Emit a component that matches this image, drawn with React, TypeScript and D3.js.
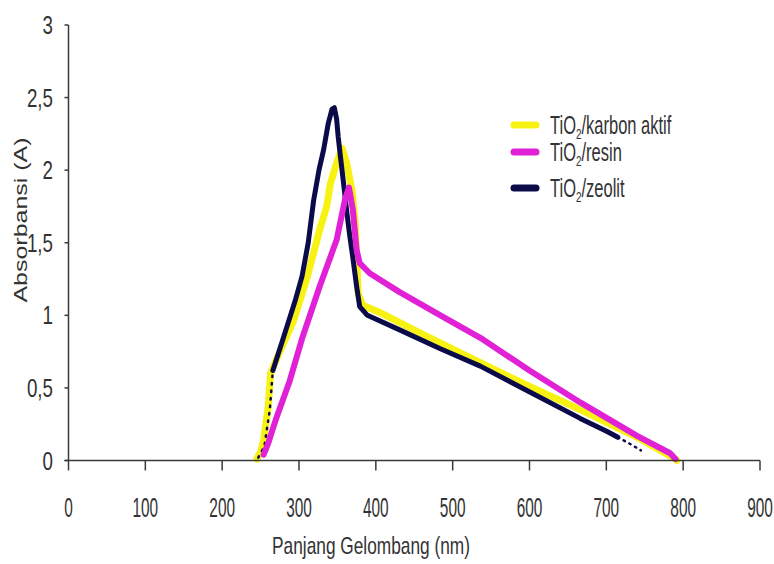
import React from 'react';
import * as d3 from 'd3';

// wavelength (nm) / absorbance pairs
const zeolitNm = [247, 255, 262, 266, 280, 295, 304, 312, 319, 326, 332, 338, 343, 346, 349, 351, 354, 358, 362, 366, 370, 375, 379, 389, 431, 484, 536, 601, 666, 701, 715, 729, 745];
const zeolitA = [0.02, 0.1, 0.35, 0.62, 0.85, 1.1, 1.27, 1.5, 1.79, 2.0, 2.14, 2.32, 2.42, 2.43, 2.35, 2.23, 2.09, 1.91, 1.72, 1.55, 1.4, 1.2, 1.06, 1.0, 0.9, 0.77, 0.65, 0.47, 0.29, 0.2, 0.16, 0.12, 0.07];

const karbonNm = [245, 250, 254, 258, 260, 263, 275, 292, 310, 327, 336, 341, 349, 356, 362, 369, 373, 375, 377, 383, 405, 457, 522, 600, 666, 740, 787, 792];
const karbonA = [0.01, 0.06, 0.14, 0.3, 0.37, 0.6, 0.75, 0.95, 1.25, 1.59, 1.75, 1.91, 2.05, 2.15, 2.05, 1.86, 1.64, 1.4, 1.15, 1.07, 1.02, 0.88, 0.71, 0.51, 0.35, 0.16, 0.02, 0.0];

const resinNm = [254, 260, 266, 271, 288, 304, 327, 349, 360, 365, 370, 375, 379, 392, 431, 484, 536, 600, 666, 740, 783, 790];
const resinA = [0.04, 0.12, 0.22, 0.3, 0.55, 0.84, 1.2, 1.52, 1.8, 1.88, 1.73, 1.45, 1.36, 1.29, 1.16, 1.0, 0.845, 0.62, 0.4, 0.17, 0.05, 0.01];

const xTicks = [0, 100, 200, 300, 400, 500, 600, 700, 800, 900];
const yTicks = [0, 0.5, 1, 1.5, 2, 2.5, 3];

const seriesNames = ['karbon aktif', 'resin', 'zeolit'];
const seriesColors = ['#f8f213', '#e021d6', '#0b0b4a'];

const W = 774;
const H = 564;

const App = () => {
  const x = d3.scaleLinear().domain([0, 900]).range([68.5, 760]);
  const y = d3.scaleLinear().domain([0, 3]).range([460.5, 25]);

  const line = d3
    .line<[number, number]>()
    .x((d) => x(d[0]))
    .y((d) => y(d[1]));

  const zip = (a: number[], b: number[]) => a.map((v, i) => [v, b[i]] as [number, number]);

  const karbon = zip(karbonNm, karbonA);
  const resin = zip(resinNm, resinA);
  const zeolit = zip(zeolitNm, zeolitA);
  // the zeolit trace is only dotted at its very start and end
  const zeolitHead = zeolit.slice(0, 4);
  const zeolitBody = zeolit.slice(3, zeolit.length - 2);
  const zeolitTail = zeolit.slice(zeolit.length - 3);

  const fmt = (v: number) => String(v).replace('.', ',');
  const axisColor = '#3a3a3a';
  const font = "'Liberation Sans', Arial, sans-serif";

  const legendY = [125, 152, 188];

  return (
    <svg width={W} height={H} style={{ position: 'absolute', left: 0, top: 0, background: '#fff' }}>
      <rect width={W} height={H} fill="#fff" />

      {/* curves */}
      <path d={line(karbon) || ''} fill="none" stroke={seriesColors[0]} strokeWidth={7} strokeLinejoin="round" strokeLinecap="round" />
      <path d={line(zeolitHead) || ''} fill="none" stroke={seriesColors[2]} strokeWidth={2.5} strokeDasharray="1.5 6" strokeLinecap="round" />
      <path d={line(zeolitBody) || ''} fill="none" stroke={seriesColors[2]} strokeWidth={5} strokeLinejoin="round" strokeLinecap="round" />
      <path d={line(zeolitTail) || ''} fill="none" stroke={seriesColors[2]} strokeWidth={2.5} strokeDasharray="1.5 5" strokeLinecap="round" />
      <path d={line(resin) || ''} fill="none" stroke={seriesColors[1]} strokeWidth={6} strokeLinejoin="round" strokeLinecap="round" />

      {/* y axis */}
      <line x1={x(0)} x2={x(0)} y1={y(3)} y2={y(0)} stroke={axisColor} strokeWidth={1.5} />
      {yTicks.map((t) => (
        <g key={'y' + t} transform={`translate(0,${y(t)})`}>
          <line x1={x(0) - 4} x2={x(0)} stroke={axisColor} strokeWidth={1.5} />
          <text
            transform={`translate(53,0) scale(0.75,1)`}
            textAnchor="end"
            dy="0.36em"
            fontFamily={font}
            fontSize={25}
            fill="#333"
          >
            {fmt(t)}
          </text>
        </g>
      ))}

      {/* x axis */}
      <line x1={x(0) - 4} x2={x(900)} y1={y(0)} y2={y(0)} stroke={axisColor} strokeWidth={1.5} />
      {xTicks.map((t) => (
        <g key={'x' + t} transform={`translate(${x(t)},0)`}>
          <line y1={y(0)} y2={y(0) + 10} stroke={axisColor} strokeWidth={1.5} />
          <text
            transform={`translate(0,517) scale(0.55,1)`}
            textAnchor="middle"
            fontFamily={font}
            fontSize={28}
            fill="#333"
          >
            {t}
          </text>
        </g>
      ))}

      {/* axis titles */}
      <text
        transform="translate(371,554) scale(0.72,1)"
        textAnchor="middle"
        fontFamily={font}
        fontSize={24}
        fill="#333"
      >
        Panjang Gelombang (nm)
      </text>
      <text
        transform="translate(27,220) scale(0.7,1) rotate(-90)"
        textAnchor="middle"
        fontFamily={font}
        fontSize={25}
        fill="#333"
      >
        Absorbansi (A)
      </text>

      {/* legend */}
      {seriesNames.map((name, i) => (
        <g key={name} transform={`translate(0,${legendY[i]})`}>
          <line x1={514} x2={536} stroke={seriesColors[i]} strokeWidth={7} strokeLinecap="round" />
          <text
            transform="translate(550,0) scale(0.66,1)"
            dy="0.36em"
            fontFamily={font}
            fontSize={25}
            fill="#333"
          >
            TiO
            <tspan fontSize={15} dy="5">2</tspan>
            <tspan dy="-5">/{name}</tspan>
          </text>
        </g>
      ))}
    </svg>
  );
};

export default App;
